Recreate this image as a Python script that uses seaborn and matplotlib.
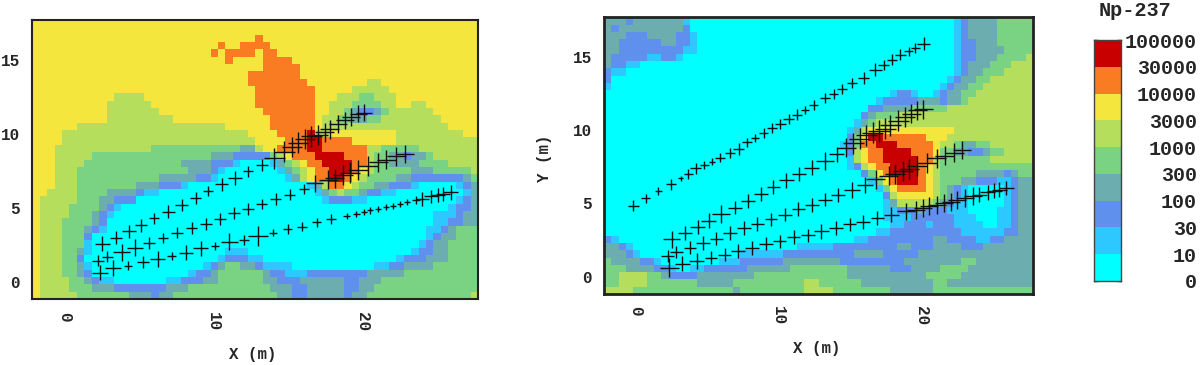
import pandas as pd
import seaborn as sns
import matplotlib.pyplot as plt
from matplotlib.colors import ListedColormap

# Concentration classes, lowest first
level_labels = ['0', '10', '30', '100', '300', '1000', '3000', '10000', '30000', '100000']
level_colors = ['#00FFFF', '#2CC8FF', '#5F90EE', '#6CAEB0', '#7AD383',
                '#B4DE5C', '#F4E63C', '#F97B22', '#C80000']

# Field: one string per row (top to bottom), "class-endcolumn" runs
left_rows = [
    "6-60", "6-60", "6-30 7-31 6-60", "6-25 7-26 6-28 7-32 6-60",
    "6-24 7-25 6-26 7-30 6-31 7-33 6-60", "6-26 7-27 6-31 7-35 6-60", "6-31 7-36 6-60", "6-29 7-36 6-60",
    "6-29 7-37 6-45 5-47 6-60", "6-30 7-38 6-43 5-48 6-60",
    "6-11 5-15 6-30 7-38 6-41 5-44 4-46 5-49 6-60",
    "6-10 5-16 6-30 7-38 6-40 5-43 4-47 5-49 6-51 5-53 6-60",
    "6-10 5-17 6-31 7-38 6-40 5-42 4-43 3-44 2-46 3-47 4-48 5-54 6-60",
    "6-10 5-19 6-32 7-38 6-39 5-41 4-43 3-45 4-47 5-55 6-60",
    "6-6 5-26 6-32 7-38 6-39 5-56 6-60",
    "6-4 5-29 6-33 7-37 8-38 5-40 6-49 5-58 6-60",
    "6-4 5-30 6-34 7-37 8-39 7-43 6-49 5-60",
    "6-3 5-16 4-28 3-30 5-31 6-33 7-37 8-39 7-45 5-47 4-52 5-60",
    "6-3 5-8 4-24 3-27 2-32 4-33 5-34 6-35 7-38 8-42 7-45 5-46 4-48 3-50 2-51 3-53 4-54 5-60",
    "6-3 5-7 4-20 3-24 2-27 1-28 0-32 1-33 3-34 4-35 5-36 6-37 7-39 8-43 7-45 6-45 5-46 4-48 3-52 4-56 5-60",
    "6-3 5-6 4-21 3-24 2-25 1-26 0-33 1-34 3-35 4-36 5-37 6-38 7-40 8-43 7-44 6-45 5-46 4-51 3-54 4-59 5-60",
    "6-3 5-6 4-17 3-22 2-24 1-25 0-34 1-35 3-36 4-36 5-37 6-38 7-40 8-42 7-43 6-44 5-45 4-49 3-51 2-58 3-59 4-60",
    "6-3 5-6 4-14 3-17 2-20 1-21 0-37 1-38 3-39 5-40 7-42 6-43 5-44 4-46 3-48 2-51 1-52 0-57 1-58 2-59 3-60",
    "6-2 5-6 4-10 3-14 2-15 1-17 0-38 1-39 3-40 4-41 5-42 4-44 3-45 2-47 1-49 0-58 1-59 2-59 3-60",
    "6-1 5-6 4-9 3-11 2-14 1-14 0-39 1-40 2-43 1-45 0-57 1-58 2-59 3-60",
    "6-1 5-5 4-9 3-10 2-11 1-12 0-56 1-57 2-59 3-60",
    "6-1 5-5 4-8 3-9 2-10 1-11 0-54 1-57 2-58 3-60",
    "6-1 5-4 4-8 3-9 2-10 1-10 0-54 1-56 2-58 3-60",
    "6-1 5-4 4-7 3-8 2-9 1-10 0-53 1-55 2-56 3-57 4-60",
    "6-1 5-4 4-7 3-7 2-8 1-8 0-53 1-54 2-55 3-57 4-60",
    "6-1 5-4 4-7 3-7 2-7 1-8 0-52 1-53 2-54 3-56 4-60",
    "6-1 5-4 4-6 3-7 2-7 1-8 0-26 1-29 0-51 1-52 2-54 3-56 4-60",
    "6-1 5-4 4-6 3-6 2-7 1-7 0-25 1-26 2-29 1-31 0-49 1-50 2-53 3-56 4-60",
    "6-1 5-4 4-6 3-7 2-7 1-8 0-23 1-24 2-25 3-26 4-28 3-30 2-31 1-35 0-46 1-48 2-50 3-54 4-60",
    "6-1 5-4 4-6 3-7 2-8 1-8 0-21 1-22 2-24 3-25 4-31 3-32 2-34 1-37 2-45 3-50 4-60",
    "6-1 5-5 4-7 3-8 2-9 1-11 0-18 1-20 2-23 3-25 4-31 3-33 2-36 3-42 2-44 3-47 4-60",
    "6-1 5-5 4-8 3-11 2-18 3-21 4-32 3-35 2-37 3-42 2-44 3-46 4-60",
    "6-1 5-6 4-13 3-16 2-17 3-19 4-33 3-35 2-37 3-42 2-43 3-45 4-59 5-60",
]

right_rows = [
    "3-3 2-4 3-11 1-12 0-49 1-50 2-51 3-55 4-60",
    "3-1 2-2 3-11 2-12 1-12 0-49 1-50 2-51 3-55 4-60",
    "3-3 2-6 3-10 2-12 1-13 0-49 1-50 2-51 3-55 4-60",
    "3-2 2-8 3-10 2-12 1-13 0-49 1-50 2-52 3-55 4-60",
    "3-2 2-11 1-13 0-49 1-50 2-52 3-56 4-60",
    "3-1 2-6 1-8 2-10 1-11 0-49 1-50 2-52 3-55 4-59 5-60",
    "3-1 2-3 1-5 0-49 1-50 2-51 3-54 4-57 5-60",
    "2-1 1-3 0-49 1-50 2-51 3-53 4-56 5-60",
    "2-1 1-1 0-48 1-49 2-50 3-52 4-54 5-60",
    "1-1 0-47 1-48 2-49 3-51 4-53 5-60",
    "0-40 1-41 2-43 1-44 0-46 1-47 2-48 3-50 4-52 5-60",
    "0-38 1-39 2-44 3-47 2-48 3-50 4-51 5-60",
    "0-37 1-37 2-39 3-43 4-48 5-60",
    "0-36 1-36 2-37 3-38 4-41 5-60",
    "0-35 1-36 2-36 3-37 4-38 5-60",
    "0-34 1-35 2-35 3-36 4-36 5-37 6-49 5-60",
    "0-34 1-34 2-35 3-35 4-36 5-36 6-37 7-37 8-39 7-45 6-48 5-60",
    "0-33 1-34 2-35 3-35 4-36 5-36 6-36 7-38 8-41 7-46 6-47 5-49 4-50 3-52 4-54 5-60",
    "0-34 1-34 2-35 3-35 4-35 5-36 6-37 7-39 8-43 7-46 6-47 5-47 4-49 3-51 2-53 3-54 4-56 5-60",
    "0-34 1-35 2-35 3-35 4-35 5-36 6-37 7-39 8-44 7-46 6-46 5-47 4-54 5-60",
    "0-34 1-35 2-36 3-36 4-36 5-37 6-38 7-40 8-44 7-45 6-46 5-47 4-60",
    "0-36 1-36 2-37 3-37 4-38 5-38 6-39 7-40 8-44 7-45 6-46 5-47 4-52 3-56 2-57 3-58 4-60",
    "0-37 1-38 2-38 3-38 4-39 5-39 6-40 7-41 8-44 7-45 6-46 5-47 4-50 3-52 2-55 1-57 2-58 3-60",
    "0-38 1-39 2-39 3-39 4-40 5-40 6-41 7-45 6-46 5-47 4-48 3-49 2-50 1-51 0-56 1-57 2-58 3-60",
    "0-39 1-39 2-40 3-40 4-40 5-41 6-46 5-47 4-48 3-49 2-50 1-51 0-56 1-57 2-58 3-60",
    "0-39 1-40 2-40 3-41 4-41 5-46 4-47 3-48 2-49 1-51 0-56 1-57 2-58 3-60",
    "0-39 1-41 2-44 3-45 2-48 1-51 0-55 1-57 2-58 3-60",
    "0-39 1-43 2-49 1-52 0-55 1-57 2-58 3-60",
    "0-40 1-42 2-45 1-46 2-49 1-53 0-55 1-57 2-58 3-60",
    "0-38 1-40 2-50 1-56 2-58 3-60",
    "2-1 1-2 0-35 1-37 2-46 3-48 2-52 1-54 2-56 3-60",
    "3-2 2-3 1-4 0-27 1-32 2-41 3-43 2-46 3-50 2-53 3-60",
    "3-3 2-4 1-5 0-19 1-25 2-35 3-39 2-44 3-60",
    "4-1 3-5 2-7 1-8 0-16 1-19 2-25 3-33 2-42 3-50 4-52 3-60",
    "4-3 3-7 2-9 1-10 0-12 1-14 2-20 3-26 4-34 3-40 2-43 3-47 4-51 3-60",
    "4-2 5-6 4-8 3-9 2-13 3-21 4-34 3-45 4-50 3-60",
    "4-2 5-6 4-13 3-18 4-28 5-30 4-36 3-46 4-48 3-60",
    "5-4 4-18 3-19 4-28 5-32 4-40 3-46 4-60",
]

# Well positions (m) and cross widths (px) per panel
well_a_x = [2.35, 3.25, 4.26, 5.27, 6.23, 7.17, 8.14, 9.13, 10.09, 11.05, 12.06, 13.0, 14.01, 14.98, 15.94, 16.93,
            17.91, 18.95, 19.62, 20.11, 20.52, 21.08, 21.59, 22.09, 22.53, 23.03, 23.61, 24.06, 24.66, 25.11, 25.45, 25.96]
well_a_y = [.61, .90, 1.08, 1.31, 1.51, 1.74, 1.96, 2.26, 2.42, 2.69, 2.82, 3.09, 3.32, 3.57, 3.72, 4.0,
            4.22, 4.45, 4.58, 4.7, 4.81, 4.9, 5.03, 5.12, 5.26, 5.37, 5.51, 5.6, 5.76, 5.87, 5.94, 6.05]
well_a_left = [15, 15, 8, 11, 15, 8, 14, 14, 8, 16, 10, 19, 7, 9, 9, 9, 9, 6, 6, 6, 6, 6, 6, 6, 6, 6, 8, 13, 13, 13, 13, 14]
well_a_right = [18, 14, 15, 12, 12, 13, 13, 13, 12, 13, 13, 14, 13, 13, 13, 13, 14, 17, 17, 17, 17, 17, 17, 17, 17, 17, 17, 14, 14, 14, 14, 14]

well_b_x = [2.24, 2.85, 3.81, 4.71, 5.65, 6.61, 7.56, 8.52, 9.48, 10.43, 11.39, 12.33, 13.23, 14.17, 15.13, 16.08,
            16.82, 17.71, 18.16, 18.72, 19.17, 19.73, 20.4, 21.08, 21.64, 22.31, 22.87]
well_b_y = [1.42, 1.69, 1.99, 2.3, 2.6, 2.96, 3.32, 3.61, 3.91, 4.24, 4.63, 4.9, 5.26, 5.58, 5.89, 6.28,
            6.66, 6.88, 7.0, 7.22, 7.38, 7.56, 7.79, 8.08, 8.24, 8.47, 8.65]
well_b_left = [11, 10, 16, 16, 11, 10, 11, 11, 11, 11, 11, 11, 10, 11, 10, 9, 16, 18, 18, 19, 19, 19, 19, 18, 18, 18, 17]
well_b_right = [12, 12, 12, 13, 13, 13, 13, 13, 12, 13, 13, 13, 13, 14, 15, 15, 18, 18, 19, 19, 19, 19, 19, 18, 18, 18, 17]

well_c_x = [2.51, 3.43, 4.33, 5.11, 5.99, 6.95, 7.85, 8.79, 9.64, 10.54, 11.43, 12.33, 13.27, 14.08, 14.75, 15.25,
            15.7, 16.14, 16.59, 17.04, 17.49, 17.83, 18.39, 18.83, 19.28, 19.73, 20.13]
well_c_y = [2.55, 2.96, 3.39, 3.81, 4.27, 4.72, 5.19, 5.64, 6.12, 6.57, 7.0, 7.45, 7.9, 8.35, 8.8, 9.1,
            9.41, 9.64, 9.82, 9.93, 10.09, 10.32, 10.65, 10.9, 11.13, 11.35, 11.44]
well_c_left = [14, 12, 13, 12, 10, 12, 12, 11, 10, 12, 13, 10, 11, 20, 20, 19, 19, 19, 20, 19, 18, 18, 17, 17, 17, 16, 16]
well_c_right = [16, 13, 14, 14, 17, 13, 13, 13, 13, 14, 13, 14, 17, 14, 18, 20, 20, 20, 20, 21, 20, 20, 20, 19, 18, 18, 18]

# Top well line only shows on the right panel
well_d_x = [-.16, .70, 1.59, 2.48, 3.15, 3.69, 4.2, 4.81, 5.33, 5.91, 6.61, 7.2, 7.78, 8.36, 8.95, 9.53, 10.12, 10.7,
            11.28, 11.87, 12.45, 13.27, 13.86, 14.44, 15.14, 15.96, 16.78, 17.36, 17.94, 18.53, 19.11, 19.58, 20.16]
well_d_y = [4.85, 5.35, 5.85, 6.31, 6.72, 7.02, 7.4, 7.63, 7.86, 8.13, 8.43, 8.72, 9.16, 9.45, 9.79, 10.14, 10.43, 10.75,
            11.05, 11.39, 11.73, 12.19, 12.48, 12.8, 13.21, 13.55, 14.12, 14.46, 14.81, 15.15, 15.38, 15.6, 15.9]
well_d_right = [11, 9, 7, 10, 5, 9, 10, 8, 6, 9, 10, 11, 9, 8, 9, 10, 10, 10, 10, 8, 9, 9, 9, 10, 10, 11, 12, 10, 10, 10, 9, 9, 12]

x_ticks = [0, 10, 20]
y_ticks = [0, 5, 10, 15]
x_min, x_max = -2.2, 27.8
y_min, y_max = -1.18, 17.7

W, H = 1200, 365
MONO = 'Liberation Mono'

sns.set_theme(style='white')
plt.rcParams['font.family'] = [MONO, 'DejaVu Sans Mono']
plt.rcParams['font.weight'] = 'bold'


def expand(rows):
    table = []
    for row in rows:
        cells = []
        for run in row.split():
            level, end = run.split('-')
            cells += [int(level)] * (int(end) - len(cells))
        assert len(cells) == 60, row
        table.append(cells)
    return pd.DataFrame(table)


def px_axes(fig, left, top, right, bottom):
    return fig.add_axes([left / W, 1 - bottom / H, (right - left) / W, (bottom - top) / H])


def draw_panel(ax, rows, wells, spine_width, tick_size):
    field = expand(rows)
    sns.heatmap(field, cmap=ListedColormap(level_colors), vmin=-.5, vmax=8.5, cbar=False,
                xticklabels=False, yticklabels=False, ax=ax)
    dx = (x_max - x_min) / field.shape[1]
    dy = (y_max - y_min) / field.shape[0]
    to_col = lambda v: (v - x_min) / dx
    to_row = lambda v: (y_max - v) / dy

    for xs, ys, widths in wells:
        sns.scatterplot(x=[to_col(v) for v in xs], y=[to_row(v) for v in ys], marker='+',
                        s=[(w * .76) ** 2 for w in widths], color='#111111', linewidth=1.0, ax=ax)

    ax.set_xticks([to_col(v) for v in x_ticks])
    ax.set_xticklabels(x_ticks, rotation=-90, fontsize=tick_size)
    ax.set_yticks([to_row(v) for v in y_ticks])
    ax.set_yticklabels(y_ticks, rotation=0, fontsize=tick_size)
    ax.tick_params(direction='in', length=3, width=1.2, color='black', top=True, right=True,
                   bottom=True, left=True, pad=9)
    for spine in ax.spines.values():
        spine.set_visible(True)
        spine.set_color('#222222')
        spine.set_linewidth(spine_width)


fig = plt.figure(figsize=(W / 100, H / 100), dpi=100)

ax1 = px_axes(fig, 32.3, 20, 478, 299)
draw_panel(ax1, left_rows,
           [(well_a_x, well_a_y, well_a_left), (well_b_x, well_b_y, well_b_left), (well_c_x, well_c_y, well_c_left)],
           1.5, 11.5)

ax2 = px_axes(fig, 604.3, 17.3, 1032.7, 294)
draw_panel(ax2, right_rows,
           [(well_a_x, well_a_y, well_a_right), (well_b_x, well_b_y, well_b_right), (well_c_x, well_c_y, well_c_right),
            (well_d_x, well_d_y, well_d_right)],
           2, 11.5)

fig.text(253 / W, 1 - 355 / H, 'X (m)', ha='center', va='center', fontsize=11.3)
fig.text(817 / W, 1 - 349 / H, 'X (m)', ha='center', va='center', fontsize=11.3)
fig.text(545 / W, 1 - 158 / H, 'Y (m)', ha='center', va='center', rotation=90, fontsize=11.3)

# Colour key, top class first
cax = px_axes(fig, 1094.3, 40, 1120.7, 281)
key = pd.DataFrame({'level': list(range(len(level_colors)))[::-1]})
sns.heatmap(key, cmap=ListedColormap(level_colors), vmin=-.5, vmax=8.5, cbar=False,
            xticklabels=False, yticklabels=False, ax=cax)
cax.yaxis.tick_right()
cax.set_yticks(range(len(level_labels)))
cax.set_yticklabels(level_labels[::-1], rotation=0, ha='right', fontsize=14.4)
cax.tick_params(axis='y', direction='in', length=3, width=1, color='#222222', left=True, right=True, pad=55)
for spine in cax.spines.values():
    spine.set_visible(True)
    spine.set_color('#444444')
    spine.set_linewidth(1)

fig.text(1135 / W, 1 - 10 / H, 'Np-237', ha='center', va='center', fontsize=14.6)

fig.savefig('out.png', dpi=100)
